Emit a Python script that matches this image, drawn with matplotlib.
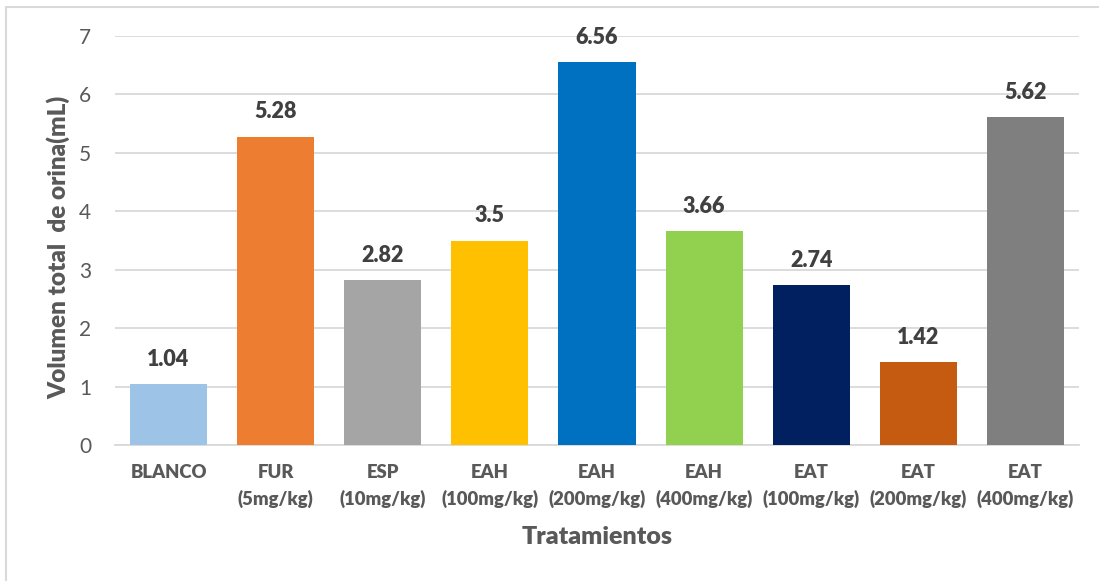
import matplotlib
matplotlib.use("Agg")
import matplotlib.pyplot as plt
from matplotlib.patches import Rectangle

categories = ["BLANCO", "FUR\n(5mg/kg)", "ESP\n(10mg/kg)", "EAH\n(100mg/kg)", "EAH\n(200mg/kg)",
              "EAH\n(400mg/kg)", "EAT\n(100mg/kg)", "EAT\n(200mg/kg)", "EAT\n(400mg/kg)"]
values = [1.04, 5.28, 2.82, 3.5, 6.56, 3.66, 2.74, 1.42, 5.62]
value_labels = ["1.04", "5.28", "2.82", "3.5", "6.56", "3.66", "2.74", "1.42", "5.62"]
colors = ["#9DC3E6", "#ED7D31", "#A5A5A5", "#FFC000", "#0070C0",
          "#92D050", "#002060", "#C55A11", "#7F7F7F"]
y_ticks = [0, 1, 2, 3, 4, 5, 6, 7]

plt.rcParams["font.family"] = ["Lato", "DejaVu Sans"]
text_color = "#595959"
grid_color = "#D9D9D9"
heavy = 800

fig = plt.figure(figsize=(10.99, 5.81), dpi=100)
ax = fig.add_axes([0.1046, 0.2341, 0.8772, 0.7039])

x = list(range(len(categories)))
bars = ax.bar(x, values, width=0.72, color=colors, zorder=3)

for rect, lab in zip(bars, value_labels):
    ax.annotate(lab, (rect.get_x() + rect.get_width() / 2, rect.get_height()),
                xytext=(0, 13), textcoords="offset points", ha="center", va="baseline",
                fontsize=15.5, fontweight=heavy, color="#404040")

ax.set_xlim(-0.5, len(categories) - 0.5)
ax.set_ylim(0, 7)
ax.set_yticks(y_ticks)
ax.set_xticks(x)
ax.set_xticklabels(categories, fontsize=13.3, fontweight=heavy, color=text_color,
                   linespacing=1.55)
ax.tick_params(axis="both", length=0)
ax.tick_params(axis="y", labelsize=15, labelcolor=text_color, pad=17)
ax.tick_params(axis="x", pad=14)
ax.grid(axis="y", color=grid_color, linewidth=1.3, zorder=0)
for side in ["top", "right", "left"]:
    ax.spines[side].set_visible(False)
ax.spines["bottom"].set_color(grid_color)
ax.spines["bottom"].set_linewidth(1.3)

ax.set_ylabel("Volumen total  de orina(mL)", fontsize=17.5, fontweight=heavy,
              color=text_color, va="center")
ax.yaxis.set_label_coords(-0.0591, 0.483)
ax.set_xlabel("Tratamientos", fontsize=18, fontweight=heavy, color=text_color, va="center")
ax.xaxis.set_label_coords(0.5, -0.225)

# chart-area frame; its right and bottom edges fall outside the saved canvas
fig.patches.append(Rectangle((6 / 1099, -0.05), 1.2, (574 / 581) + 0.05,
                             transform=fig.transFigure, fill=False,
                             edgecolor=grid_color, linewidth=1.5))

fig.savefig("out.png", dpi=100)
